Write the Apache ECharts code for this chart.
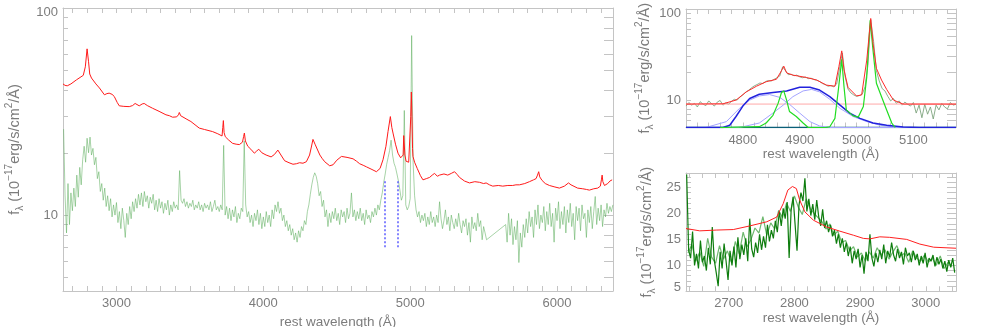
<!DOCTYPE html>
<html>
<head>
<meta charset="utf-8">
<script src="https://cdn.jsdelivr.net/npm/echarts@6/dist/echarts.min.js"></script>
<style>
html,body{margin:0;padding:0;background:#fff;}
#chartDiv{width:981px;height:327px;}
</style>
</head>
<body>
<div id="chartDiv"></div>
<script>
var FONT = 'Liberation Sans';
var AXIS_GRAY = '#c4c4c4';
var LABEL_GRAY = '#7c7c7c';

// ---- left panel : full spectrum ----
var fullXRange = [2636, 6381];
var fullYRange = [4.3, 100];
var fullXTicks = [2700,2800,2900,3000,3100,3200,3300,3400,3500,3600,3700,3800,3900,4000,4100,4200,4300,4400,
    4500,4600,4700,4800,4900,5000,5100,5200,5300,5400,5500,5600,5700,5800,5900,6000,6100,6200,6300];
var fullXLabels = [3000, 4000, 5000, 6000];
var logTicks = [5,6,7,8,9,10,20,30,40,50,60,70,80,90,100];
var logLabels = [10, 100];

// comparison spectrum (red), [wavelength, flux]
var redFull = [[2636,43.0],[2650,42.3],[2665,42.1],[2690,43.0],[2728,45.0],[2774,47.3],[2788,52],[2800,63.5],[2810,55],
    [2818,48],[2830,45.9],[2860,43],[2884,41.1],[2918,38.1],[2935,38.6],[2950,38.8],[2970,38.3],[2985,37.4],[3005,35],
    [3019,33.7],[3050,33.5],[3087,33.4],[3110,33.8],[3127,34.6],[3140,34.0],[3155,33.7],[3175,34.4],[3189,34.6],[3210,33.8],
    [3246,32.8],[3290,31.7],[3337,30.5],[3360,30.2],[3382,29.7],[3410,29.8],[3422,30.5],[3428,31.3],[3437,30.2],[3450,29.7],
    [3480,29.0],[3507,28.3],[3535,27.3],[3564,26.3],[3600,25.9],[3655,25.3],[3690,24.7],[3719,24.1],[3724,26.5],[3728,28.6],
    [3733,25.0],[3741,23.9],[3765,23.0],[3791,22.2],[3815,22.0],[3837,21.9],[3858,22.5],[3866,24.0],[3871,24.9],[3878,22.8],
    [3894,21.5],[3915,20.8],[3939,19.9],[3955,20.4],[3969,20.8],[3990,20.0],[4019,19.5],[4053,19.1],[4075,19.6],[4099,20.6],
    [4120,19.5],[4145,18.3],[4175,17.9],[4202,17.6],[4225,17.7],[4247,17.9],[4270,17.8],[4293,18.1],[4315,19.5],[4330,21.8],
    [4338,23.2],[4352,22.0],[4365,21.7],[4385,19.5],[4400,18.8],[4418,18.1],[4452,17.3],[4475,17.5],[4500,18.4],[4532,19.2],
    [4570,19.0],[4611,18.7],[4635,18.2],[4656,17.7],[4680,17.4],[4702,17.1],[4740,16.6],[4770,16.2],[4795,16.8],[4815,18.5],
    [4835,21.5],[4849,25.3],[4865,29.9],[4875,26.5],[4883,24.9],[4900,22.0],[4917,19.9],[4935,18.9],[4946,18.5],[4952,19.5],
    [4956,24.2],[4960,24.2],[4964,19.5],[4972,18.2],[4990,18.0],[5000,18.4],[5004,30],[5008,39.3],[5012,30],[5016,21],
    [5019,19.2],[5030,18.0],[5048,16.8],[5070,15.5],[5087,14.8],[5110,15.0],[5132,15.2],[5150,15.6],[5166,15.9],[5185,15.4],
    [5200,15.6],[5230,15.8],[5256,15.6],[5280,15.9],[5302,16.2],[5320,15.7],[5336,15.2],[5370,14.6],[5404,14.3],[5440,14.5],
    [5472,14.4],[5500,14.2],[5517,14.3],[5540,14.0],[5562,13.8],[5600,13.9],[5630,13.8],[5665,13.9],[5698,13.9],[5720,14.0],
    [5744,14.0],[5780,14.2],[5812,14.5],[5840,14.8],[5857,15.0],[5867,15.6],[5875,16.2],[5882,15.3],[5898,14.7],[5920,14.2],
    [5948,13.9],[5980,13.7],[6016,13.5],[6050,13.8],[6078,14.3],[6085,14.5],[6095,14.0],[6107,13.7],[6140,13.5],[6175,13.4],
    [6200,13.3],[6220,13.2],[6250,13.4],[6277,13.5],[6295,13.8],[6302,14.8],[6307,15.6],[6312,14.5],[6323,13.9],[6345,14.2],
    [6360,14.6],[6375,14.8]];

// observed spectrum (light green), two pieces either side of the gap, 10 A steps
var greenStartA = 2640;
var greenValsA = [26.0,12.5,8.2,14.2,9.0,12.8,10.5, 13.5,11.0,15.6,12.2,17.0,14.0,18.5, 21.5,18.0,23.5,20.0,23.8,19.5,21.0,
    17.5,19.0,15.0,16.2,13.0,14.2,11.8, 13.5,11.0,12.4,10.5,12.0,9.8,11.2, 10.0,11.5,9.2,10.4,8.6,10.8,9.4,
    7.8,10.2,9.0,11.0,9.6,11.6,10.4, 12.0,10.8,12.6,11.2,12.8,11.0,13.0, 11.6,12.4,10.8,12.2,11.4,12.6,10.6,
    11.8,10.4,12.0,10.8,11.6,10.2,11.4, 10.6,11.8,10.0,11.2,10.4,11.6,10.8, 11.2,10.6,16.4,11.8,11.4,12.0,11.0,
    11.6,10.8,11.4,11.0,11.8,10.6,11.2, 10.8,11.6,10.6,11.2,10.4,11.4,10.8, 11.2,10.6,11.6,10.4,11.0,11.8,10.6,
    11.0,10.4,11.2,10.6,21.7,10.0,11.0, 9.6,10.8,9.4,10.6,9.8,11.0,9.2, 10.2,9.6,10.8,10.4,22.8,11.2,9.8,
    10.4,9.2,10.0,8.8,10.2,9.4,10.6, 9.0,10.2,8.6,9.8,8.8,10.4,9.2, 10.0,8.8,10.6,9.6,11.2,10.4,11.6,
    10.2,10.8,9.4,10.0,8.8,9.4,8.4, 9.0,8.0,8.6,7.6,8.2,7.4,8.4, 7.8,8.8,8.4,9.4,9.0,10.4,11.2,
    12.6,14.0,15.2,16.0,15.4,14.2,12.4, 13.0,11.0,11.8,9.8,10.6,8.8,10.2, 9.2,10.4,9.6,10.8,9.4,10.2,9.0,
    10.6,9.8,10.4,9.2,10.8,9.6,10.2, 12.8,9.8,10.6,9.4,10.4,9.6,10.8, 9.4,10.2,9.0,10.6,9.6,10.0,9.2,
    10.4,9.8,10.8,10.0,11.2,10.6,11.8, 12.8,14.4,15.8,17.6,19.0,20.5,23.0, 19.5,17.8,17.0,15.8,14.6,13.2,11.8,
    12.4,32.0,11.2,10.6,11.0,12.0,73.6, 18.0,12.4,10.6,9.8,10.4,9.2,10.0, 9.4,10.2,8.8,9.8,9.0,10.4,9.2,
    9.8,8.8,10.0,9.2,11.6,9.6,8.6, 9.4,10.6,9.0,9.8,8.4,10.0,9.2, 8.6,9.6,8.8,10.2,9.0,8.2,9.4,
    8.8,9.6,8.0,9.2,7.4,9.8,8.6, 9.2,8.4,10.2,8.8,9.4,7.6,8.8, 8.2,7.6];
var greenStartB = 5650;
var greenValsB = [9.0,7.4,10.2,8.0,9.6,7.2,8.8, 7.6,9.4,5.9,8.2,7.0,9.0,7.8, 9.6,8.2,10.4,8.8,9.8,7.8,10.6,
    9.0,11.2,8.6,10.0,9.2,11.0,8.4, 10.4,9.0,11.4,8.8,10.2,7.4,10.8, 9.4,11.6,8.6,10.4,9.0,11.0,8.2,
    10.6,9.2,11.4,8.8,10.2,7.6,11.0, 9.4,10.8,8.4,11.2,9.6,10.2,7.8, 10.6,9.2,11.0,8.6,10.4,12.3,9.0,
    10.8,9.4,11.2,8.8,10.6,9.8,11.4, 10.2,11.0,10.4,11.2];
var greenStep = 10;

// dotted H-beta window markers
var hbMarkX = [4830, 4912];
var hbMarkY = [7.0, 14.9];

// ---- top right : H-beta fit ----
var hbXRange = [4700, 5175];
var hbYRange = [5, 100];
var hbXTicks = [4720,4740,4760,4780,4800,4820,4840,4860,4880,4900,4920,4940,4960,4980,5000,5020,5040,5060,5080,5100,5120,5140,5160];
var hbXLabels = [4800, 4900, 5000, 5100];
var hbDataStart = 4700, hbDataStep = 5;
var hbDataVals = [8.6,9.4,8.8,9.2,8.4,9.6,9.0,8.7,9.8,9.1, 8.6,9.5,9.9,8.8,9.3,9.0,9.7,10.2,10.0,10.8,
    11.4,12.2,12.8,13.6,14.3,14.8,15.4,15.2,16.0,16.4, 16.2,16.9,17.6,18.4,23.2,21.0,19.0,19.2,18.5,18.8,
    18.0,17.6,17.9,17.2,17.4,16.8,16.5,16.0,15.2,14.8, 14.2,14.4,14.0,15.0,22.0,33.0,18.0,13.2,12.0,11.4,
    11.0,11.2,11.6,14.0,24.0,76.0,44.0,21.0,16.2,13.4, 12.6,11.0,9.8,10.4,9.2,9.8,8.8,9.5,9.0,8.6,
    9.4,7.2,8.8,6.4,9.0,7.0,8.4,6.2,8.8,7.8, 9.2,8.4,8.0,9.4,8.8,9.0];
var hbFit = [[4700,9.04],[4765,9.1],[4788,10.0],[4806,12.3],[4824,14.2],[4841,15.9],[4859,16.9],[4868,21.0],[4872,23.6],
    [4877,19.9],[4888,18.8],[4912,17.7],[4930,16.6],[4947,14.6],[4962,14.2],[4969,23.3],[4974,34.7],[4978,21.4],[4985,13.8],
    [5000,11.1],[5009,11.4],[5018,27.5],[5025,78.7],[5029,41.9],[5035,22.3],[5044,16.6],[5053,13.1],[5065,10.0],[5082,9.04],[5175,9.04]];
var hbContinuum = [[4700,9.04],[5175,9.04]];
var hbBaseline = [[4700,5],[5175,5]];
var hbBroad = [[4700,5],[4765,5],[4777,5.3],[4788,6.6],[4800,8.6],[4812,10.4],[4829,11.6],[4853,12.1],[4877,12.6],[4900,13.8],
    [4918,13.8],[4935,12.9],[4953,10.9],[4971,8.8],[4988,7.2],[5006,6.3],[5029,5.6],[5053,5.3],[5082,5.05],[5110,5],[5175,5]];
var hbBroadA = [[4700,5],[4735,5],[4771,5.8],[4794,8.1],[4812,10.0],[4829,11.1],[4847,11.5],[4865,10.7],[4882,9.0],[4900,7.2],
    [4918,5.8],[4935,5.2],[4953,5],[5175,5]];
var hbBroadB = [[4700,5],[4794,5],[4829,5.6],[4853,7.2],[4871,8.8],[4888,10.9],[4906,12.6],[4921,13.1],[4935,12.3],[4953,10.2],
    [4971,8.1],[4994,6.6],[5018,5.8],[5041,5.3],[5070,5],[5175,5]];
var hbNarrow = [[4760,5],[4829,5.1],[4841,5.6],[4853,6.8],[4862,9.2],[4868,12.1],[4872,12.6],[4877,10.0],[4882,7.5],[4894,6.6],
    [4906,5.6],[4915,5],[4945,5],[4953,5.1],[4962,6.3],[4968,12.9],[4974,28.0],[4978,14.0],[4982,7.8],[4994,6.7],[5003,6.5],
    [5012,8.5],[5018,18.0],[5024,75.4],[5029,35.4],[5035,15.3],[5044,10.9],[5053,7.8],[5062,5.6],[5068,5]];

// ---- bottom right : Mg II ----
var mgXRange = [2635, 3046];
var mgYRange = [5, 27.8];
var mgXTicks = [2640,2660,2680,2700,2720,2740,2760,2780,2800,2820,2840,2860,2880,2900,2920,2940,2960,2980,3000,3020,3040];
var mgXLabels = [2700, 2800, 2900, 3000];
var mgYTicks = [5,6,7,8,9,10,11,12,13,14,15,16,17,18,19,20,21,22,23,24,25,26,27];
var mgYLabels = [5, 10, 15, 20, 25];
var mgDarkStart = 2636, mgDarkStep = 3;
var mgDarkVals = [27.5,13.0,11.4,16.5,10.0,12.2,9.4,14.8,10.6,
    11.8,9.0,13.4,10.2,17.4,11.0,8.6,6.0,12.6,9.4,
    14.2,10.8,7.2,12.8,10.0,13.6,9.6,15.4,11.2,14.0,
    12.0,15.2,10.8,19.0,13.2,11.6,14.4,12.4,16.0,13.0,
    15.6,13.4,17.8,14.6,16.8,15.2,18.6,16.4,20.4,17.6,
    21.0,19.0,22.2,11.4,20.6,23.2,18.0,12.8,21.6,24.0,
    22.4,26.8,20.4,22.8,19.6,21.8,18.8,22.6,19.4,17.6,
    20.8,17.2,18.6,16.4,17.8,15.6,16.8,14.2,16.0,13.4,
    15.2,12.6,14.4,11.8,13.6,10.4,12.8,11.2,13.2,9.6,
    12.0,8.4,12.6,10.8,16.0,11.4,9.8,12.4,10.6,13.0,
    11.2,14.0,10.4,12.8,11.6,14.4,12.0,10.8,13.2,11.4,
    12.6,10.2,13.4,11.8,12.4,10.6,12.8,11.0,12.2,10.0,
    11.8,10.4,12.4,9.6,11.4,10.8,12.0,9.8,11.6,10.2,
    11.2,9.4,10.8,8.8,11.0,9.6,11.4,8.6];
var mgLightStart = 2638, mgLightStep = 6;
var mgLightVals = [12.4,14.0,10.8,12.6,9.8,15.2,11.6,10.4,13.8,11.2,
    12.8,10.6,14.6,12.2,16.4,13.6,15.0,17.2,16.2,19.4,
    15.8,18.2,17.0,20.6,19.2,22.0,20.4,23.4,21.2,19.8,
    22.8,21.0,20.0,19.2,18.4,17.0,18.0,15.8,16.6,14.4,
    14.8,12.8,13.6,11.6,12.4,10.8,12.6,11.4,13.4,12.0,
    13.0,11.2,12.6,13.8,11.8,12.4,10.6,12.8,11.4,10.8,
    12.0,10.6,11.4,10.0,11.8,9.4,10.6,9.8];
var mgRed = [[2635,17.1],[2656,16.65],[2681,16.8],[2707,16.9],[2732,17.6],[2758,18.4],[2773,19.3],[2783,21.9],[2790,24.5],
    [2797,25.2],[2803,24.8],[2808,22.6],[2816,20.3],[2829,18.7],[2849,17.4],[2869,16.6],[2890,15.8],[2905,15.2],[2915,15.1],
    [2930,15.5],[2945,15.4],[2971,15.0],[2991,14.1],[3012,13.5],[3046,13.3]];

var Y_NAME = 'f{sub|λ} (10{sup|−17}erg/s/cm{sup|2}/Å)';

function stepped(start, step, vals) {
    var out = [];
    for (var i = 0; i < vals.length; i++) {
        out.push([start + i * step, vals[i]]);
    }
    return out;
}

function xAxisPair(grid, range, ticks, labels) {
    var base = {
        gridIndex: grid, type: 'value', min: range[0], max: range[1],
        splitLine: {show: false},
        axisLine: {show: true, onZero: false, lineStyle: {color: AXIS_GRAY, width: 1}},
        axisTick: {show: true, inside: true, length: 5, customValues: ticks, lineStyle: {color: AXIS_GRAY}}
    };
    var bottom = echarts.util.merge({
        position: 'bottom',
        axisLabel: {
            show: true, customValues: labels, margin: 6, color: LABEL_GRAY, fontSize: 13, fontFamily: FONT,
            formatter: function (v) { return String(v); }
        },
        name: 'rest wavelength (Å)', nameLocation: 'middle', nameGap: 19,
        nameTextStyle: {color: LABEL_GRAY, fontSize: 13.5, fontFamily: FONT}
    }, base, true);
    var top = echarts.util.merge({position: 'top', axisLabel: {show: false}}, echarts.util.clone(base), true);
    return [bottom, top];
}

function yAxisPair(grid, type, range, ticks, labels, topLabel, bottomLabel) {
    var base = {
        gridIndex: grid, type: type, min: range[0], max: range[1],
        splitLine: {show: false},
        axisLine: {show: true, onZero: false, lineStyle: {color: AXIS_GRAY, width: 1}},
        axisTick: {show: true, inside: true, length: 5, customValues: ticks, lineStyle: {color: AXIS_GRAY}}
    };
    var left = echarts.util.merge({
        position: 'left',
        axisLabel: {
            show: true, customValues: labels, margin: 5, color: LABEL_GRAY, fontSize: 13, fontFamily: FONT,
            formatter: function (v) {
                if (v === topLabel) return '{lo|' + v + '}';
                if (v === bottomLabel) return '{hi|' + v + '}';
                return String(v);
            },
            rich: {lo: {padding: [9, 0, 0, 0]}, hi: {padding: [0, 0, 8, 0]}}
        },
        name: Y_NAME, nameLocation: 'middle', nameGap: 29,
        nameTextStyle: {
            color: LABEL_GRAY, fontSize: 14.5, fontFamily: FONT, lineHeight: 21,
            rich: {
                sub: {fontSize: 10, verticalAlign: 'bottom', lineHeight: 21, color: LABEL_GRAY, fontFamily: FONT},
                sup: {fontSize: 10, verticalAlign: 'top', lineHeight: 21, color: LABEL_GRAY, fontFamily: FONT}
            }
        }
    }, base, true);
    var right = echarts.util.merge({position: 'right', axisLabel: {show: false}}, echarts.util.clone(base), true);
    right.axisTick.length = 9;
    return [left, right];
}

function line(xi, yi, data, color, width, z) {
    return {
        type: 'line', xAxisIndex: xi, yAxisIndex: yi, data: data, showSymbol: false, symbol: 'none',
        lineStyle: {color: color, width: width}, z: z || 2, animation: false, silent: true, clip: true
    };
}

var myChart = echarts.init(document.getElementById('chartDiv'), null, {renderer: 'canvas'});

var xA = xAxisPair(0, fullXRange, fullXTicks, fullXLabels)
    .concat(xAxisPair(1, hbXRange, hbXTicks, hbXLabels))
    .concat(xAxisPair(2, mgXRange, mgXTicks, mgXLabels));
var yA = yAxisPair(0, 'log', fullYRange, logTicks, logLabels, 100, null)
    .concat(yAxisPair(1, 'log', hbYRange, logTicks, logLabels, 100, null))
    .concat(yAxisPair(2, 'value', mgYRange, mgYTicks, mgYLabels, null, 5));

var greenFull = stepped(greenStartA, greenStep, greenValsA).concat(stepped(greenStartB, greenStep, greenValsB));
var greenSeries = line(0, 0, greenFull, 'rgba(95,175,95,0.55)', 1, 2);
greenSeries.markLine = {
    symbol: 'none', silent: true, animation: false,
    label: {show: false},
    lineStyle: {color: '#5b5bff', type: [2, 2], width: 1.5},
    data: hbMarkX.map(function (x) {
        return [{coord: [x, hbMarkY[0]]}, {coord: [x, hbMarkY[1]]}];
    })
};

var option = {
    backgroundColor: '#ffffff',
    animation: false,
    grid: [
        {left: 63, top: 8, width: 550, height: 283, containLabel: false, outerBoundsMode: 'none'},
        {left: 686, top: 9, width: 270, height: 118.5, containLabel: false, outerBoundsMode: 'none'},
        {left: 686, top: 173, width: 270, height: 118.3, containLabel: false, outerBoundsMode: 'none'}
    ],
    xAxis: xA,
    yAxis: yA,
    series: [
        greenSeries,
        line(0, 0, redFull, '#ff1a1a', 1, 3),
        line(2, 2, stepped(hbDataStart, hbDataStep, hbDataVals), 'rgba(120,160,120,0.85)', 1, 2),
        line(2, 2, hbContinuum, '#ffa8a8', 1, 3),
        line(2, 2, hbBaseline, '#0b5f78', 1.5, 3),
        line(2, 2, hbBroadA, '#a4a4ff', 1, 3),
        line(2, 2, hbBroadB, '#a4a4ff', 1, 3),
        line(2, 2, hbBroad, '#2222dd', 1.5, 4),
        line(2, 2, hbNarrow, '#22dd22', 1.2, 4),
        line(2, 2, hbFit, '#ff2a2a', 1, 5),
        line(4, 4, stepped(mgLightStart, mgLightStep, mgLightVals), '#6fb86f', 1.2, 2),
        line(4, 4, stepped(mgDarkStart, mgDarkStep, mgDarkVals), '#0e7d0e', 1.2, 3),
        line(4, 4, mgRed, '#ff2020', 1, 4)
    ]
};

myChart.setOption(option);
</script>
</body>
</html>
